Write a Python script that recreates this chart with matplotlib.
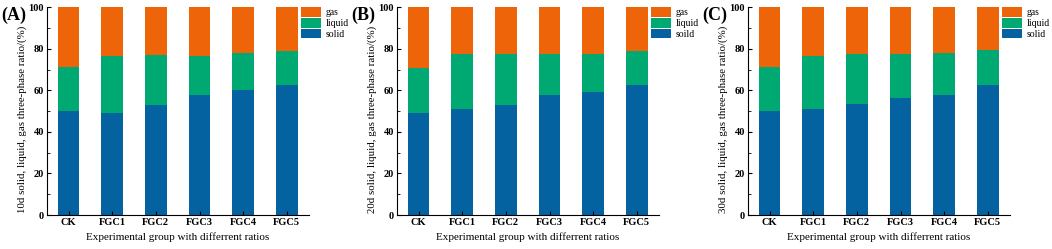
import numpy as np
import matplotlib.pyplot as plt
from matplotlib.ticker import MultipleLocator

plt.rcParams['font.family'] = ['Liberation Serif', 'DejaVu Serif']

groups = ['CK', 'FGC1', 'FGC2', 'FGC3', 'FGC4', 'FGC5']

# solid / liquid fractions (%); gas is the remainder to 100
solid_10d = [50.2, 49.2, 53.0, 57.9, 60.3, 62.5]
liquid_10d = [21.1, 27.4, 24.1, 18.7, 17.6, 16.5]
solid_20d = [49.1, 51.0, 53.1, 57.8, 59.1, 62.6]
liquid_20d = [21.7, 26.5, 24.3, 19.7, 18.4, 16.5]
solid_30d = [49.9, 51.0, 53.3, 56.3, 57.8, 62.8]
liquid_30d = [21.5, 25.7, 24.2, 21.2, 20.2, 16.7]

panels = [
    ('(A)', '10d', solid_10d, liquid_10d, 'solid'),
    ('(B)', '20d', solid_20d, liquid_20d, 'soild'),
    ('(C)', '30d', solid_30d, liquid_30d, 'solid'),
]

c_solid = '#0562a0'
c_liquid = '#00a872'
c_gas = '#ee6408'

fig = plt.figure(figsize=(10.52, 2.49), dpi=100)
lefts = [46.7, 396.7, 747.7]

x = np.arange(len(groups))
for (tag, day, solid, liquid, solid_name), left in zip(panels, lefts):
    ax = fig.add_axes([left / 1052, 34 / 249, 262 / 1052, 207.7 / 249])
    solid = np.array(solid)
    liquid = np.array(liquid)
    gas = 100 - solid - liquid
    b1 = ax.bar(x, solid, width=0.5, color=c_solid, label=solid_name)
    b2 = ax.bar(x, liquid, width=0.5, bottom=solid, color=c_liquid, label='liquid')
    b3 = ax.bar(x, gas, width=0.5, bottom=solid + liquid, color=c_gas, label='gas')
    ax.set_xlim(-0.5, 5.5)
    ax.set_ylim(0, 100)
    ax.set_xticks(x)
    ax.set_xticklabels(groups, fontweight='bold', fontsize=7.5)
    ax.yaxis.set_major_locator(MultipleLocator(20))
    ax.yaxis.set_minor_locator(MultipleLocator(10))
    for lab in ax.get_yticklabels():
        lab.set_fontweight('bold')
        lab.set_fontsize(7.5)
    ax.tick_params(axis='both', direction='in', length=3, width=0.8, pad=2)
    ax.tick_params(axis='y', which='minor', direction='in', length=1.8, width=0.6)
    ax.spines['top'].set_visible(False)
    ax.spines['right'].set_visible(False)
    ax.set_xlabel('Experimental group with differrent ratios', fontsize=8, labelpad=4)
    ax.set_ylabel(day + ' solid, liquid, gas three-phase ratio/(%)', fontsize=7.8)
    ax.yaxis.set_label_coords(-0.077, 0.46)
    ax.legend([b3, b2, b1], ['gas', 'liquid', solid_name], loc='upper left',
              bbox_to_anchor=(0.972, 1.0), frameon=False, fontsize=7,
              handlelength=2.05, handleheight=1.15, handletextpad=0.45,
              labelspacing=0.05, borderaxespad=0, borderpad=0)
    fig.text((left - 45) / 1052, 0.94, tag, fontsize=13, fontweight='bold',
             ha='left', va='center')

fig.savefig('out.png', dpi=100)
